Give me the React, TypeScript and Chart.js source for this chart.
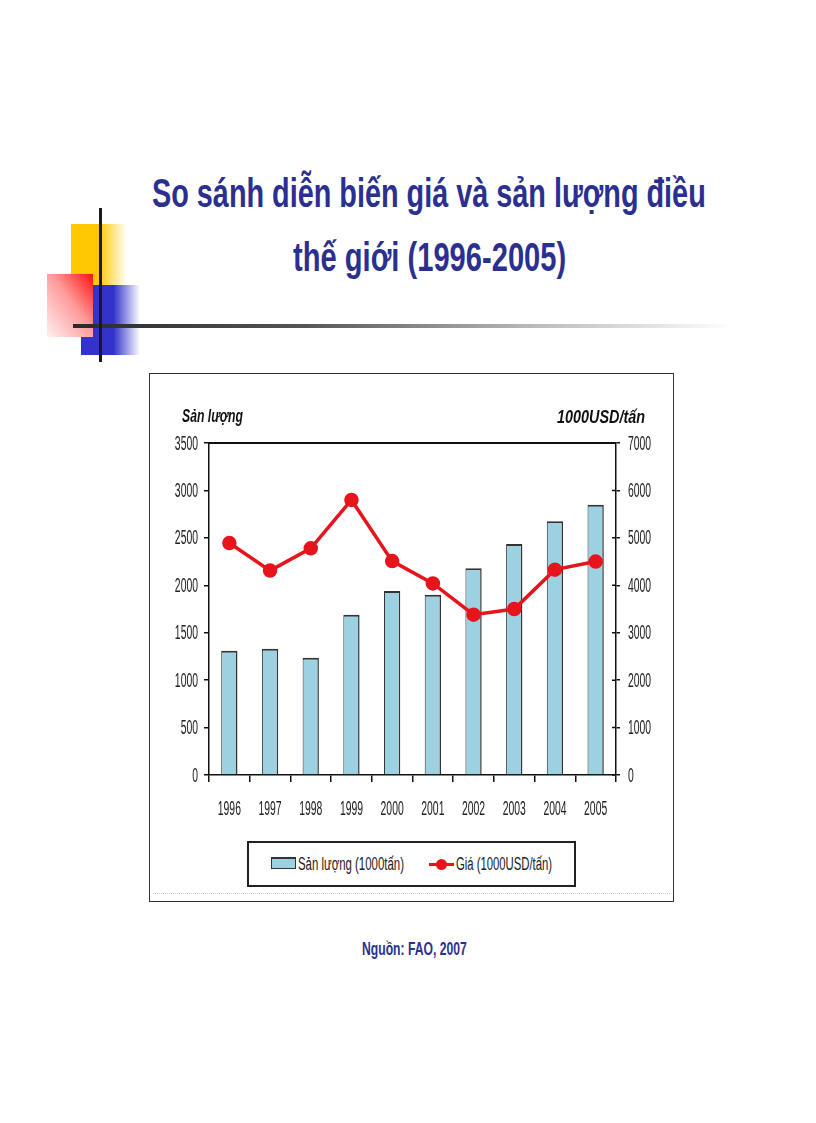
import { useEffect, useLayoutEffect, useRef } from "react";
import { Chart, registerables } from "chart.js";

Chart.register(...registerables);

// data
const years = ["1996", "1997", "1998", "1999", "2000", "2001", "2002", "2003", "2004", "2005"];
const production = [1310, 1331, 1237, 1689, 1941, 1899, 2180, 2435, 2674, 2849]; // 1000 tấn
const price = [4890, 4310, 4780, 5800, 4510, 4040, 3380, 3500, 4330, 4500]; // 1000USD/tấn
const leftAxis = { max: 3500, step: 500 };
const rightAxis = { max: 7000, step: 1000 };

const SANS = "'Liberation Sans', Arial, sans-serif";
const BLUE_TEXT = "#2B3090";
const BAR_FILL = "#9DD0E0";
const LINE_RED = "#E8141C";
const SQUEEZE = 0.52; // the slide image is squashed sideways

// top edge of the plot, inner half of the right-axis ticks, and the narrow tick labels
const frameLines = {
  id: "frameLines",
  afterDraw(chart: any) {
    const { ctx, chartArea: a, scales } = chart;
    ctx.save();
    ctx.strokeStyle = "#111";
    ctx.lineWidth = 2;
    ctx.beginPath();
    ctx.moveTo(a.left, a.top);
    ctx.lineTo(a.right, a.top);
    ctx.stroke();
    ctx.lineWidth = 1.5;
    ctx.beginPath();
    scales.y1.ticks.forEach((t: any) => {
      const py = scales.y1.getPixelForValue(t.value);
      ctx.moveTo(a.right - 4, py);
      ctx.lineTo(a.right, py);
    });
    ctx.stroke();

    ctx.fillStyle = "#222";
    ctx.font = `20px ${SANS}`;
    ctx.textBaseline = "middle";
    const put = (text: string, x: number, y: number, align: CanvasTextAlign) => {
      ctx.save();
      ctx.translate(x, y);
      ctx.scale(SQUEEZE, 1);
      ctx.textAlign = align;
      ctx.fillText(text, 0, 0);
      ctx.restore();
    };
    scales.y.ticks.forEach((t: any) => put(String(t.value), a.left - 11, scales.y.getPixelForValue(t.value) + 1, "right"));
    scales.y1.ticks.forEach((t: any) => put(String(t.value), a.right + 12, scales.y1.getPixelForValue(t.value) + 1, "left"));
    scales.x.ticks.forEach((t: any, i: number) =>
      put(String(chart.data.labels[t.value]), scales.x.getPixelForTick(i), a.bottom + 34, "center")
    );
    ctx.restore();
  },
};

// text squeezed horizontally to a given width
function FitText(props: { text: string; left: number; top: number; width: number; style: any }) {
  const ref = useRef<HTMLSpanElement | null>(null);
  useLayoutEffect(() => {
    const el = ref.current;
    if (!el) return;
    el.style.transform = "none";
    const w = el.offsetWidth;
    if (w > 0) el.style.transform = `scaleX(${props.width / w})`;
  }, [props.text, props.width]);
  return (
    <span
      ref={ref}
      style={{
        position: "absolute",
        left: props.left,
        top: props.top,
        whiteSpace: "nowrap",
        transformOrigin: "0 0",
        lineHeight: 1,
        ...props.style,
      }}
    >
      {props.text}
    </span>
  );
}

const ComboChart = () => {
  const chartRef = useRef<HTMLCanvasElement | null>(null);

  useEffect(() => {
    if (!chartRef.current) return;
    const chart = new Chart(chartRef.current, {
      type: "bar",
      data: {
        labels: years,
        datasets: [
          {
            type: "line",
            label: "Giá (1000USD/tấn)",
            data: price,
            yAxisID: "y1",
            borderColor: LINE_RED,
            backgroundColor: LINE_RED,
            borderWidth: 3.5,
            pointRadius: 5.5,
            pointBackgroundColor: LINE_RED,
            pointBorderColor: LINE_RED,
            tension: 0,
            order: 0,
          },
          {
            type: "bar",
            label: "Sản lượng (1000tấn)",
            data: production,
            yAxisID: "y",
            backgroundColor: BAR_FILL,
            borderColor: "#333",
            borderWidth: { top: 2, left: 1, right: 1.5, bottom: 0 },
            borderSkipped: false,
            categoryPercentage: 1,
            barPercentage: 0.4,
            order: 1,
          },
        ],
      } as any,
      options: {
        responsive: false,
        animation: false,
        layout: { padding: { top: 69, left: 0, right: 0, bottom: 0 } },
        plugins: { legend: { display: false }, tooltip: { enabled: false } },
        scales: {
          x: {
            grid: { display: true, offset: true, drawOnChartArea: false, drawTicks: true, tickLength: 7, color: "#111", lineWidth: 1.5 },
            border: { display: true, color: "#111", width: 1.5 },
            ticks: { display: false },
            afterFit: (s: any) => { s.height = 125; },
          },
          y: {
            position: "left",
            min: 0,
            max: leftAxis.max,
            ticks: { stepSize: leftAxis.step, display: false },
            grid: { drawOnChartArea: false, tickLength: 5, color: "#111", lineWidth: 1.5 },
            border: { display: true, color: "#111", width: 1.5 },
            afterFit: (s: any) => { s.width = 59; },
          },
          y1: {
            position: "right",
            min: 0,
            max: rightAxis.max,
            ticks: { stepSize: rightAxis.step, display: false },
            grid: { drawOnChartArea: false, tickLength: 4, color: "#111", lineWidth: 1.5 },
            border: { display: true, color: "#111", width: 1.5 },
            afterFit: (s: any) => { s.width = 56; },
          },
        },
      },
      plugins: [frameLines],
    });
    return () => chart.destroy();
  }, []);

  return (
    <canvas
      ref={chartRef}
      width={522}
      height={526}
      style={{ position: "absolute", left: 150, top: 374, width: 522, height: 526 }}
    />
  );
};

export default function App() {
  const titleStyle = { fontFamily: SANS, fontWeight: 700, fontSize: 40, color: BLUE_TEXT };
  const axisTitle = { fontFamily: SANS, fontWeight: 700, fontStyle: "italic", fontSize: 18, color: "#111" };
  const legendText = { fontFamily: SANS, fontSize: 18, color: "#222" };
  return (
    <div style={{ position: "absolute", left: 0, top: 0, width: 816, height: 1123, background: "#fff", overflow: "hidden" }}>
      {/* slide decoration */}
      <div style={{ position: "absolute", left: 71, top: 224, width: 56, height: 61, background: "linear-gradient(to right, #FFC800 0%, #FFC800 50%, #fff 100%)" }} />
      <div style={{ position: "absolute", left: 81, top: 285, width: 59, height: 70, background: "linear-gradient(to right, #3333CC 0%, #3333CC 55%, #fff 100%)" }} />
      <div style={{ position: "absolute", left: 47, top: 274, width: 46, height: 63, background: "linear-gradient(to bottom left, #FF1010 0%, #FF9A9A 45%, #FFF0F0 100%)" }} />
      <div style={{ position: "absolute", left: 73, top: 324, width: 660, height: 4, background: "linear-gradient(to right, #2A2A2A 0%, #555 35%, #bbb 70%, #fff 100%)" }} />
      <div style={{ position: "absolute", left: 99, top: 208, width: 3, height: 154, background: "#1a1a1a" }} />

      <FitText text="So sánh diễn biến giá và sản lượng điều" left={152} top={173} width={554} style={titleStyle} />
      <FitText text="thế giới (1996-2005)" left={293} top={237} width={273} style={titleStyle} />

      {/* chart frame */}
      <div style={{ position: "absolute", left: 149, top: 373, width: 525, height: 529, border: "1.5px solid #333", boxSizing: "border-box" }} />
      <div style={{ position: "absolute", left: 153, top: 893, width: 517, height: 0, borderTop: "1px dotted #ccc" }} />
      <ComboChart />
      <FitText text="Sản lượng" left={182} top={407} width={61} style={axisTitle} />
      <FitText text="1000USD/tấn" left={557} top={408} width={88} style={axisTitle} />

      {/* legend */}
      <div style={{ position: "absolute", left: 247, top: 841, width: 329, height: 46, border: "2px solid #222", boxSizing: "border-box", background: "#fff" }} />
      <div style={{ position: "absolute", left: 271, top: 857, width: 25, height: 12, background: BAR_FILL, border: "1.5px solid #333", borderTopWidth: 2, boxSizing: "border-box" }} />
      <FitText text="Sản lượng (1000tấn)" left={298} top={855} width={106} style={legendText} />
      <div style={{ position: "absolute", left: 429, top: 862.5, width: 25, height: 3, background: LINE_RED }} />
      <div style={{ position: "absolute", left: 436, top: 859, width: 11, height: 11, borderRadius: 6, background: LINE_RED }} />
      <FitText text="Giá (1000USD/tấn)" left={456} top={855} width={96} style={legendText} />

      <FitText text="Nguồn: FAO, 2007" left={362} top={939} width={105} style={{ fontFamily: SANS, fontWeight: 700, fontSize: 19, color: BLUE_TEXT }} />
    </div>
  );
}
